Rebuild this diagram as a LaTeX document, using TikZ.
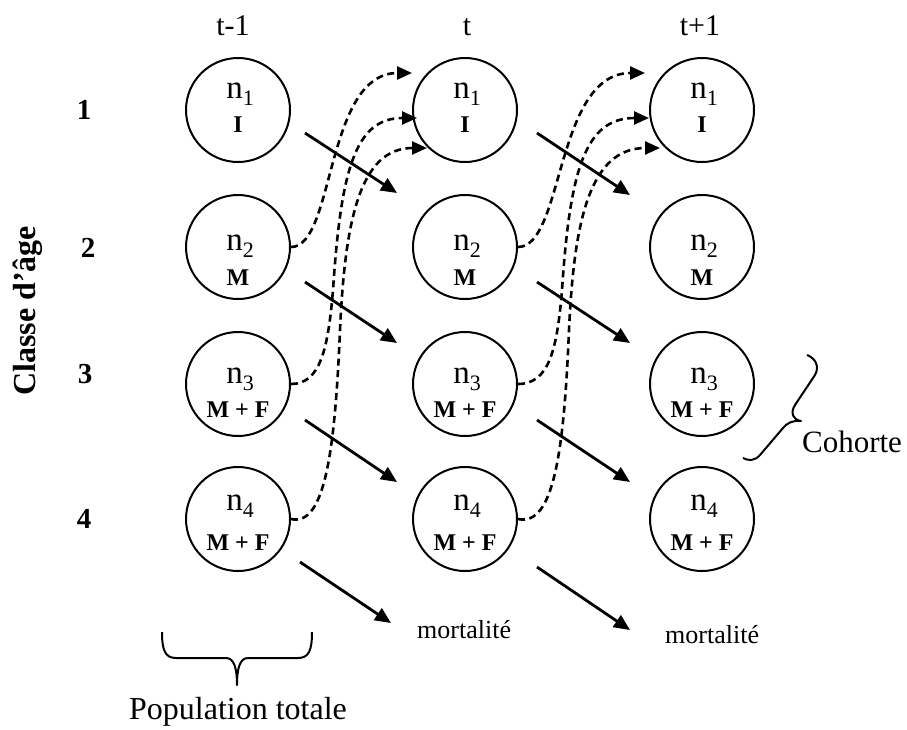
\documentclass[tikz,border=0pt]{standalone}
\usepackage{fontspec}
\setmainfont{Liberation Serif}
\usetikzlibrary{arrows.meta,calc}
\newcommand{\nsub}[1]{n\raisebox{-7pt}{\fontsize{22}{22}\selectfont #1}}
\begin{document}
\begin{tikzpicture}[x=1pt,y=-1pt,
  pop/.style={circle,draw,line width=2pt,minimum size=104pt,inner sep=0pt},
  flow/.style={line width=2.8pt,-{Triangle[length=16pt,width=14pt]}},
  recruit/.style={line width=2.6pt,dash pattern=on 7pt off 4.5pt,-{Triangle[length=15pt,width=13pt]}},
  brace/.style={line width=2pt,line join=round},
  nlab/.style={font=\fontsize{33}{38}\selectfont,inner sep=0pt,anchor=base},
  clab/.style={font=\bfseries\fontsize{24}{28}\selectfont,inner sep=0pt,anchor=base},
  head/.style={font=\fontsize{30}{36}\selectfont,inner sep=0pt,anchor=base},
  txt/.style={font=\fontsize{31}{36}\selectfont,inner sep=0pt,anchor=base},
  small/.style={font=\fontsize{26}{30}\selectfont,inner sep=0pt,anchor=base west},
  rowlab/.style={font=\bfseries\fontsize{29}{34}\selectfont,inner sep=0pt},
  axislab/.style={font=\bfseries\fontsize{32}{36}\selectfont,inner sep=0pt}
]
\useasboundingbox (0,0) rectangle (907,729);

% headers
\node[head] (h1) at (233,35) {t-1};
\node[head] (h2) at (467,35) {t};
\node[head] (h3) at (700,35) {t+1};

% age classes
\node[rowlab] (r1) at (84,110) {1};
\node[rowlab] (r2) at (88,248) {2};
\node[rowlab] (r3) at (85,374) {3};
\node[rowlab] (r4) at (84,519) {4};
\node[axislab,rotate=90] (axis) at (28,311) {Classe d’âge};

% population circles
\foreach \c/\x in {1/238,2/465,3/702}{
  \node[pop] (c\c1) at (\x,110) {};
  \node[pop] (c\c2) at (\x,247) {};
  \node[pop] (c\c3) at (\x,384) {};
  \node[pop] (c\c4) at (\x,519) {};
  \node[nlab] (n\c1) at (\x+2,98) {\nsub{1}};
  \node[clab] (s\c1) at (\x,132) {I};
  \node[nlab] (n\c2) at (\x+2,250) {\nsub{2}};
  \node[clab] (s\c2) at (\x,285) {M};
  \node[nlab] (n\c3) at (\x+2,383) {\nsub{3}};
  \node[clab] (s\c3) at (\x,417) {M + F};
  \node[nlab] (n\c4) at (\x+2,510) {\nsub{4}};
  \node[clab] (s\c4) at (\x,550) {M + F};
}

% survival arrows
\coordinate (a11) at (305,133); \coordinate (b11) at (397,193);
\coordinate (a12) at (305,282); \coordinate (b12) at (397,343);
\coordinate (a13) at (305,420); \coordinate (b13) at (397,482);
\coordinate (a14) at (300,562); \coordinate (b14) at (391,623);
\coordinate (a21) at (537,133); \coordinate (b21) at (630,195);
\coordinate (a22) at (537,282); \coordinate (b22) at (630,343);
\coordinate (a23) at (537,420); \coordinate (b23) at (630,482);
\coordinate (a24) at (537,567); \coordinate (b24) at (630,630);
\foreach \c in {1,2}{
  \foreach \r in {1,2,3,4}{
    \draw[flow] (a\c\r) -- (b\c\r);
  }
}

% mortality labels
\node[small] (m1) at (417,638) {mortalité};
\node[small] (m2) at (665,643) {mortalité};

% recruitment (dashed) arrows
\coordinate (t2a) at (412,73);
\coordinate (t2b) at (417,118);
\coordinate (t2c) at (427,148);
\coordinate (t3a) at (645,73);
\coordinate (t3b) at (649,118);
\coordinate (t3c) at (660,148);

\draw[recruit] (c12.east) .. controls (335,247) and (325,73) .. (t2a);
\draw[recruit] (c13.east) .. controls (320,384) and (328,350) .. (333,290)
   .. controls (341,170) and (355,118) .. (t2b);
\draw[recruit] (c14.east) .. controls (325,527) and (335,450) .. (340,330)
   .. controls (345,220) and (360,148) .. (t2c);

\draw[recruit] (c22.east) .. controls (564,247) and (555,73) .. (t3a);
\draw[recruit] (c23.east) .. controls (549,384) and (557,350) .. (562,290)
   .. controls (570,170) and (585,118) .. (t3b);
\draw[recruit] (c24.east) .. controls (554,527) and (564,450) .. (569,330)
   .. controls (574,220) and (590,148) .. (t3c);

% braces
\draw[brace] (162,632) .. controls (162,650) and (165,658) .. (176,658) -- (226,658)
  .. controls (234,658) and (237,668) .. (237,685)
  .. controls (237,668) and (240,658) .. (248,658) -- (298,658)
  .. controls (309,658) and (312,650) .. (312,632);
\node[txt,font=\fontsize{32}{36}\selectfont] (pop) at (238,719) {Population totale};

\draw[brace] (807,355) .. controls (815,358) and (820,366) .. (815,375) -- (795,405)
  .. controls (790,413) and (793,420) .. (801,421)
  .. controls (793,420) and (787,423) .. (783,428) -- (760,455)
  .. controls (755,461) and (748,461) .. (743,458);
\node[txt] (coh) at (852,452) {Cohorte};
\end{tikzpicture}
\end{document}
